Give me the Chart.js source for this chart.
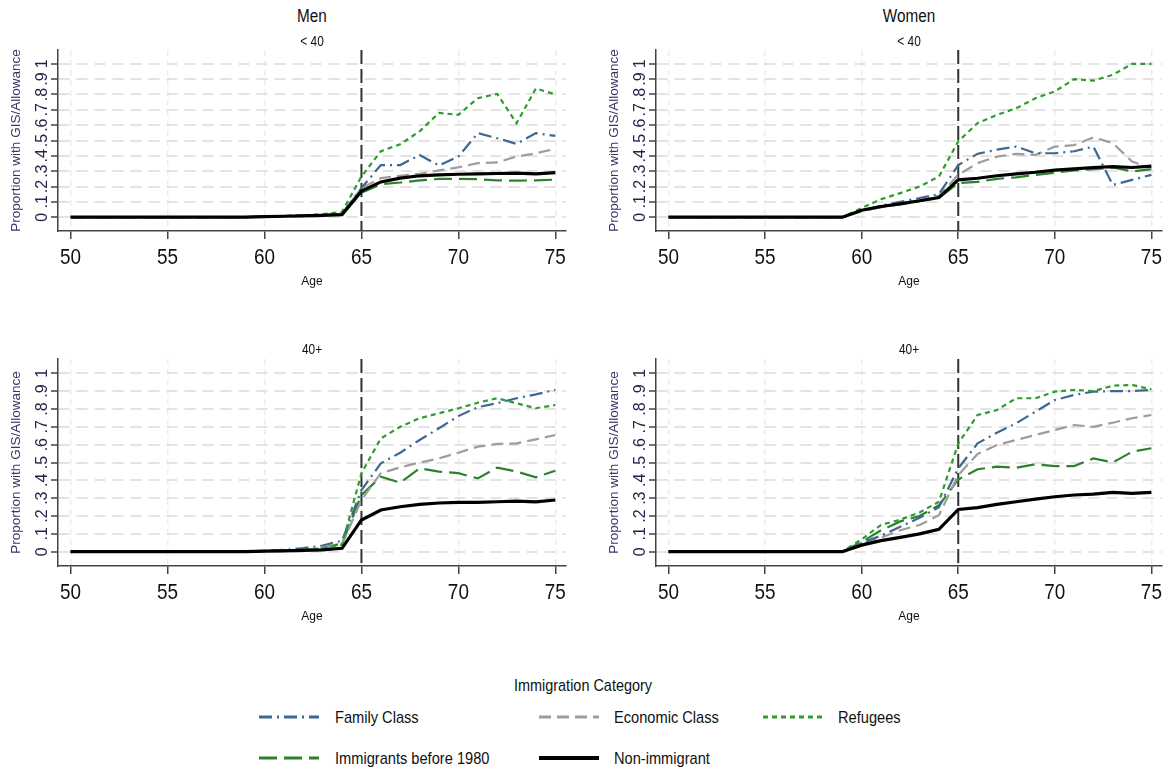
<!DOCTYPE html>
<html>
<head>
<meta charset="utf-8">
<script src="https://cdn.jsdelivr.net/npm/chart.js@4.4.1/dist/chart.umd.min.js"></script>
<style>
  body { margin: 0; background: #fff; }
  #page { position: relative; width: 1164px; height: 771px; overflow: hidden;
          font-family: 'Liberation Sans', Arial, sans-serif; color: #111; }
  canvas { position: absolute; }
  .lbl { position: absolute; white-space: nowrap; transform: translate(-50%, -50%) scaleX(0.85); line-height: 1; }
  .key { position: absolute; }
  .keytext { position: absolute; white-space: nowrap; transform-origin: 0 50%;
             transform: translateY(-50%) scaleX(0.86); font-size: 17px; line-height: 1; }
</style>
</head>
<body>
<div id="page">
  <canvas id="menYoung" width="580" height="250" style="left:0;top:40px"></canvas>
  <canvas id="womenYoung" width="566" height="250" style="left:598px;top:40px"></canvas>
  <canvas id="menOld" width="580" height="275" style="left:0;top:350px"></canvas>
  <canvas id="womenOld" width="566" height="275" style="left:598px;top:350px"></canvas>

  <div class="lbl" style="left:312px;top:16px;font-size:18px">Men</div>
  <div class="lbl" style="left:909px;top:16px;font-size:18px">Women</div>
  <div class="lbl" style="left:312px;top:41px;font-size:14px">&lt; 40</div>
  <div class="lbl" style="left:909px;top:41px;font-size:14px">&lt; 40</div>
  <div class="lbl" style="left:312px;top:349px;font-size:14px">40+</div>
  <div class="lbl" style="left:909px;top:349px;font-size:14px">40+</div>

  <div class="lbl" style="left:583px;top:685px;font-size:17px">Immigration Category</div>
  <div id="legend"></div>
</div>

<script>
// x axis: age, y axis: share receiving GIS/Allowance
const ages = [50, 51, 52, 53, 54, 55, 56, 57, 58, 59, 60, 61, 62, 63, 64, 65, 66, 67, 68, 69, 70, 71, 72, 73, 74, 75];
const ageTicks = [50, 55, 60, 65, 70, 75];
const shareTicks = [0, 0.1, 0.2, 0.3, 0.4, 0.5, 0.6, 0.7, 0.8, 0.9, 1];
const cutoffAge = 65;

const seriesNames = ['Family Class', 'Economic Class', 'Refugees', 'Immigrants before 1980', 'Non-immigrant'];

// men, arrived before 40
const menYoungFamily    = [0,0,0,0,0,0,0,0,0,0, 0.004,0.007,0.01,0.014,0.022, 0.19,0.34,0.34,0.405,0.337,0.395,0.548,0.515,0.478,0.548,0.53];
const menYoungEconomic  = [0,0,0,0,0,0,0,0,0,0, 0.004,0.007,0.01,0.013,0.02, 0.19,0.255,0.27,0.283,0.305,0.325,0.352,0.357,0.395,0.417,0.445];
const menYoungRefugee   = [0,0,0,0,0,0,0,0,0,0, 0.004,0.008,0.012,0.02,0.035, 0.265,0.43,0.475,0.56,0.68,0.667,0.776,0.804,0.613,0.84,0.8];
const menYoungPre1980   = [0,0,0,0,0,0,0,0,0,0, 0.004,0.007,0.01,0.013,0.02, 0.16,0.215,0.226,0.24,0.25,0.25,0.248,0.24,0.238,0.24,0.245];
const menYoungNonImm    = [0,0,0,0,0,0,0,0,0,0, 0.004,0.006,0.009,0.012,0.017, 0.17,0.23,0.255,0.27,0.276,0.28,0.283,0.285,0.287,0.283,0.29];

// women, arrived before 40
const womenYoungFamily   = [0,0,0,0,0,0,0,0,0,0, 0.045,0.075,0.1,0.125,0.15, 0.34,0.413,0.44,0.46,0.417,0.417,0.43,0.46,0.21,0.243,0.276];
const womenYoungEconomic = [0,0,0,0,0,0,0,0,0,0, 0.04,0.07,0.09,0.11,0.14, 0.276,0.352,0.395,0.413,0.406,0.46,0.47,0.52,0.483,0.363,0.32];
const womenYoungRefugee  = [0,0,0,0,0,0,0,0,0,0, 0.06,0.117,0.157,0.2,0.265, 0.494,0.613,0.667,0.71,0.776,0.82,0.9,0.89,0.928,1.0,1.0];
const womenYoungPre1980  = [0,0,0,0,0,0,0,0,0,0, 0.04,0.065,0.085,0.105,0.125, 0.222,0.23,0.25,0.26,0.276,0.29,0.305,0.313,0.324,0.298,0.313];
const womenYoungNonImm   = [0,0,0,0,0,0,0,0,0,0, 0.045,0.07,0.087,0.107,0.128, 0.243,0.254,0.27,0.283,0.293,0.307,0.315,0.324,0.33,0.324,0.333];

// men, arrived at 40 or later
const menOldFamily    = [0,0,0,0,0,0,0,0,0,0, 0.005,0.01,0.02,0.035,0.062, 0.346,0.495,0.555,0.626,0.692,0.76,0.81,0.832,0.86,0.882,0.907];
const menOldEconomic  = [0,0,0,0,0,0,0,0,0,0, 0.003,0.005,0.01,0.02,0.04, 0.29,0.44,0.473,0.5,0.523,0.555,0.589,0.604,0.607,0.63,0.654];
const menOldRefugee   = [0,0,0,0,0,0,0,0,0,0, 0.003,0.006,0.01,0.02,0.04, 0.44,0.635,0.7,0.748,0.776,0.804,0.835,0.86,0.832,0.804,0.822];
const menOldPre1980   = [0,0,0,0,0,0,0,0,0,0, 0.005,0.008,0.012,0.02,0.047, 0.318,0.42,0.387,0.467,0.449,0.44,0.411,0.471,0.449,0.417,0.454];
const menOldNonImm    = [0,0,0,0,0,0,0,0,0,0, 0.003,0.005,0.008,0.01,0.019, 0.178,0.234,0.252,0.265,0.273,0.277,0.277,0.28,0.284,0.279,0.29];

// women, arrived at 40 or later
const womenOldFamily   = [0,0,0,0,0,0,0,0,0,0, 0.05,0.09,0.14,0.19,0.25, 0.467,0.607,0.667,0.72,0.785,0.85,0.879,0.897,0.9,0.9,0.907];
const womenOldEconomic = [0,0,0,0,0,0,0,0,0,0, 0.04,0.08,0.12,0.15,0.205, 0.43,0.548,0.598,0.626,0.654,0.682,0.71,0.7,0.723,0.748,0.766];
const womenOldRefugee  = [0,0,0,0,0,0,0,0,0,0, 0.07,0.15,0.18,0.22,0.28, 0.607,0.766,0.794,0.86,0.86,0.897,0.907,0.9,0.93,0.935,0.91];
const womenOldPre1980  = [0,0,0,0,0,0,0,0,0,0, 0.055,0.12,0.17,0.2,0.26, 0.405,0.462,0.477,0.471,0.49,0.48,0.48,0.523,0.5,0.56,0.58];
const womenOldNonImm   = [0,0,0,0,0,0,0,0,0,0, 0.037,0.062,0.08,0.1,0.125, 0.237,0.247,0.265,0.28,0.295,0.308,0.318,0.323,0.333,0.327,0.333];

// line look per category (order: lower draws on top)
const lineStyles = {
  'Family Class':           { color: '#3e6892', width: 2.2, dash: [13, 5, 2, 5], order: 2 },
  'Economic Class':         { color: '#9d9d9d', width: 2.2, dash: [12, 6],       order: 3 },
  'Refugees':               { color: '#2f9c2f', width: 2.2, dash: [5, 4],        order: 1 },
  'Immigrants before 1980': { color: '#2c822c', width: 2.2, dash: [18, 7],       order: 4 },
  'Non-immigrant':          { color: '#000000', width: 3.2, dash: [],            order: 0 }
};

const regular = "'Liberation Sans', Arial, sans-serif";

// dashed vertical marker at the pension age
const cutoffLine = {
  id: 'cutoffLine',
  beforeDatasetsDraw(chart) {
    const x = chart.scales.x.getPixelForValue(cutoffAge);
    const { top, bottom } = chart.chartArea;
    const ctx = chart.ctx;
    ctx.save();
    ctx.strokeStyle = '#333333';
    ctx.lineWidth = 2;
    ctx.setLineDash([14, 5]);
    ctx.beginPath();
    ctx.moveTo(x, top);
    ctx.lineTo(x, bottom);
    ctx.stroke();
    ctx.restore();
  }
};

function shareLabel(v) {
  if (v === 0) return '0';
  if (v === 1) return '1';
  return '.' + Math.round(v * 10);
}

// tick labels: y labels stand on end, x labels are set condensed
const tickLabels = {
  id: 'tickLabels',
  afterDraw(chart) {
    const { x: xs, y: ys } = chart.scales;
    const ctx = chart.ctx;
    ctx.save();
    ctx.textAlign = 'center';
    ctx.textBaseline = 'middle';

    ctx.font = '16px ' + regular;
    ctx.fillStyle = '#24244a';
    shareTicks.forEach(v => {
      ctx.save();
      ctx.translate(ys.right - 16, ys.getPixelForValue(v));
      ctx.rotate(-Math.PI / 2);
      ctx.fillText(shareLabel(v), 0, 1);
      ctx.restore();
    });

    ctx.font = '22px ' + regular;
    ctx.fillStyle = '#111111';
    ageTicks.forEach(v => {
      ctx.save();
      ctx.translate(xs.getPixelForValue(v), xs.top + 27);
      ctx.scale(0.86, 1);
      ctx.fillText(String(v), 0, 0);
      ctx.restore();
    });
    ctx.restore();
  }
};

function makePanel(id, values, yMin, yMax, padTop, padRight) {
  const datasets = seriesNames.map((name, k) => {
    const st = lineStyles[name];
    return {
      label: name,
      data: values[k].map((v, i) => ({ x: ages[i], y: v })),
      borderColor: st.color,
      borderWidth: st.width,
      borderDash: st.dash,
      order: st.order,
      pointRadius: 0,
      tension: 0,
      fill: false
    };
  });

  return new Chart(document.getElementById(id), {
    type: 'line',
    data: { datasets },
    options: {
      responsive: false,
      animation: false,
      devicePixelRatio: 1,
      layout: { padding: { top: padTop, right: padRight, left: 0, bottom: 0 } },
      plugins: { legend: { display: false }, tooltip: { enabled: false } },
      scales: {
        x: {
          type: 'linear',
          min: 49.35,
          max: 75.55,
          afterBuildTicks: s => { s.ticks = ageTicks.map(v => ({ value: v })); },
          afterFit: s => { s.height = 59; },
          ticks: { display: false },
          grid: { color: '#ededed', lineWidth: 1.5, tickColor: '#444', tickLength: 8, tickWidth: 1.5 },
          border: { color: '#444', width: 1.5, dash: [6, 4] },
          title: { display: true, text: 'Age', font: { family: regular, size: 12 }, color: '#111', padding: { top: 0, bottom: 1 } }
        },
        y: {
          type: 'linear',
          min: yMin,
          max: yMax,
          afterBuildTicks: s => { s.ticks = shareTicks.map(v => ({ value: v })); },
          afterFit: s => { s.width = 58; },
          ticks: { display: false },
          grid: { color: '#e3e3e3', lineWidth: 2, tickColor: '#444', tickLength: 7, tickWidth: 1.5 },
          border: { color: '#444', width: 1.5, dash: [11, 7] },
          title: { display: true, text: 'Proportion with GIS/Allowance', font: { family: regular, size: 13.5 }, color: '#3a3468', padding: { top: 8, bottom: 0 } }
        }
      }
    },
    plugins: [cutoffLine, tickLabels]
  });
}

makePanel('menYoung',   [menYoungFamily, menYoungEconomic, menYoungRefugee, menYoungPre1980, menYoungNonImm], -0.09, 1.09, 10, 14);
makePanel('womenYoung', [womenYoungFamily, womenYoungEconomic, womenYoungRefugee, womenYoungPre1980, womenYoungNonImm], -0.09, 1.09, 10, 2);
makePanel('menOld',     [menOldFamily, menOldEconomic, menOldRefugee, menOldPre1980, menOldNonImm], -0.08, 1.08, 9, 14);
makePanel('womenOld',   [womenOldFamily, womenOldEconomic, womenOldRefugee, womenOldPre1980, womenOldNonImm], -0.08, 1.08, 9, 2);

// shared key below the panels
const keySlots = {
  'Family Class':           { x: 259, y: 717, text: 335 },
  'Economic Class':         { x: 539, y: 717, text: 614 },
  'Refugees':               { x: 763, y: 717, text: 838 },
  'Immigrants before 1980': { x: 259, y: 758, text: 335 },
  'Non-immigrant':          { x: 539, y: 758, text: 614 }
};
const legend = document.getElementById('legend');
seriesNames.forEach(name => {
  const st = lineStyles[name];
  const slot = keySlots[name];
  const w = 60;
  const svg = document.createElementNS('http://www.w3.org/2000/svg', 'svg');
  svg.setAttribute('class', 'key');
  svg.setAttribute('width', w);
  svg.setAttribute('height', 12);
  svg.style.left = slot.x + 'px';
  svg.style.top = (slot.y - 6) + 'px';
  const ln = document.createElementNS('http://www.w3.org/2000/svg', 'line');
  ln.setAttribute('x1', 0); ln.setAttribute('x2', w);
  ln.setAttribute('y1', 6); ln.setAttribute('y2', 6);
  ln.setAttribute('stroke', st.color);
  ln.setAttribute('stroke-width', name === 'Non-immigrant' ? 4 : 2.8);
  if (st.dash.length) ln.setAttribute('stroke-dasharray', st.dash.join(' '));
  svg.appendChild(ln);
  legend.appendChild(svg);
  const t = document.createElement('div');
  t.className = 'keytext';
  t.style.left = slot.text + 'px';
  t.style.top = slot.y + 'px';
  t.textContent = name;
  legend.appendChild(t);
});
</script>
</body>
</html>
